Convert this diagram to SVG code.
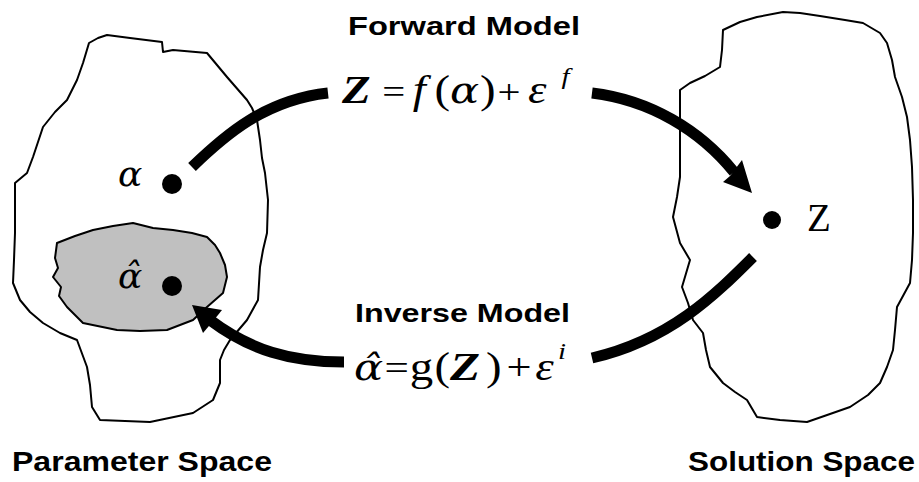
<svg xmlns="http://www.w3.org/2000/svg" width="919" height="482" viewBox="0 0 919 482">
<style>
.blob{fill:#fff;stroke:#000;stroke-width:2;stroke-linejoin:round}
.gray{fill:#c0c0c0;stroke:#000;stroke-width:2;stroke-linejoin:round}
.arc{fill:none;stroke:#000;stroke-width:11}
.head{fill:#000}
.lbl{font-family:"Liberation Sans",Arial,sans-serif;font-weight:bold;fill:#000}
.m{font-family:"Liberation Serif","Times New Roman",serif;font-size:39px;fill:#000}
.i{font-style:italic}
.u{font-style:normal}
.g{font-family:"DejaVu Serif",serif;font-style:italic;font-size:36px}
.op{font-size:34px}
</style>
<rect width="919" height="482" fill="#fff"/>
<g id="parameter-space">
<path class="blob" d="M89,43 L98,38 L107,35 L130,38 L162,42 L163,52 L173,50 L207,53 L217,65 L227,77 L247,100 L252,108 L257,120 L260,140 L262,158 L265,173 L268,200 L267,233 L263,250 L260,267 L258,300 L247,320 L230,340 L224,350 L220,360 L220,383 L213,400 L193,413 L150,422 L100,420 L92,407 L90,385 L87,367 L77,340 L60,333 L43,323 L30,312 L20,300 L13,283 L14,260 L15,233 L15,183 L27,173 L33,157 L38,142 L43,127 L55,112 L67,100 L77,80 L83,63 Z"/>
<path class="gray" d="M57,243 L75,236 L93,230 L113,226 L133,223 L153,228 L173,230 L192,233 L207,237 L215,245 L220,253 L225,265 L227,277 L223,293 L207,307 L193,320 L167,330 L140,331 L117,330 L83,323 L67,307 L59,296 L61,287 L53,277 L58,268 L55,258 Z"/>
<text class="lbl" x="12" y="471" font-size="28" textLength="260" lengthAdjust="spacingAndGlyphs">Parameter Space</text>
</g>
<g id="alpha">
<circle cx="172" cy="184" r="10"/>
<text class="m g" x="118" y="186" font-size="38">α</text>
</g>
<g id="alpha-hat">
<circle cx="172" cy="286" r="10"/>
<text class="m g" x="118" y="288" font-size="38">α̂</text>
</g>
<g id="solution-space">
<path class="blob" d="M783,12 L800,13 L820,16 L845,20 L863,23 L880,33 L887,43 L892,60 L895,77 L902,97 L907,117 L910,140 L912,167 L913,200 L913,233 L912,260 L910,283 L897,307 L895,330 L893,350 L887,367 L880,383 L868,395 L850,407 L830,414 L807,422 L780,420 L757,417 L747,400 L735,392 L723,383 L710,367 L706,350 L703,333 L693,320 L688,303 L682,287 L690,260 L680,243 L673,217 L677,197 L680,177 L680,133 L680,90 L690,83 L705,76 L720,67 L722,50 L723,30 L740,22 L757,17 Z"/>
<text class="lbl" x="688" y="471" font-size="28" textLength="227" lengthAdjust="spacingAndGlyphs">Solution Space</text>
</g>
<g id="z">
<circle cx="772" cy="220" r="9"/>
<text class="m" x="807" y="231" font-size="28">Z</text>
</g>
<g id="forward-model">
<text class="lbl" x="348" y="35" font-size="25" textLength="232" lengthAdjust="spacingAndGlyphs">Forward Model</text>
<text class="m i" transform="translate(0,103) scale(1.2,1)"><tspan x="285" font-weight="bold">Z</tspan><tspan x="318.5" class="u op">=</tspan><tspan x="344">f</tspan><tspan x="362" class="u">(</tspan><tspan x="375" class="g">α</tspan><tspan x="400" class="u">)</tspan><tspan x="414.5" class="u op">+</tspan><tspan x="440">ε</tspan><tspan x="468" y="-19" font-size="24">f</tspan></text>
</g>
<g id="inverse-model">
<text class="lbl" x="355" y="322" font-size="26" textLength="215" lengthAdjust="spacingAndGlyphs">Inverse Model</text>
<text class="m i" transform="translate(0,380) scale(1.2,1)"><tspan x="295" class="g" font-size="32">α̂</tspan><tspan x="320.5" class="u" font-size="36">=</tspan><tspan x="341.5" class="u">g</tspan><tspan x="362" class="u">(</tspan><tspan x="375" font-weight="bold" font-size="41">Z</tspan><tspan x="405" class="u">)</tspan><tspan x="422" class="u" font-size="37">+</tspan><tspan x="446">ε</tspan><tspan x="465" y="-21" font-size="24">i</tspan></text>
</g>
<g id="connectors">
<path class="arc" d="M192,167 C225,135 265,100 328,93"/>
<path class="arc" d="M592,93 C650,100 700,130 734,172"/>
<polygon class="head" points="752,193 723,182 730,176 742,160"/>
<path class="arc" d="M753,257 C715,295 670,340 592,358"/>
<path class="arc" d="M344,362 C290,362 250,350 210,320"/>
<polygon class="head" points="192,305 222,310 214,320 203,333"/>
</g>
</svg>
